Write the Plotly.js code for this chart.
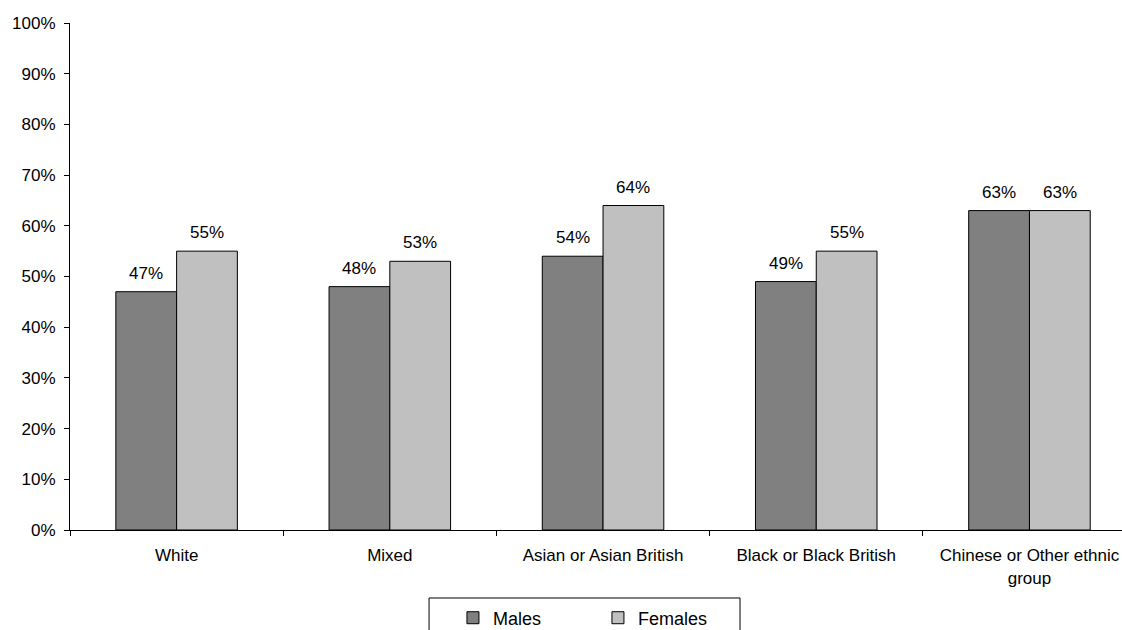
<!DOCTYPE html>
<html><head><meta charset="utf-8">
<script src="https://cdn.plot.ly/plotly-3.0.1.min.js"></script>
<style>body{margin:0;background:#fff}</style>
</head><body>
<div id="chart" style="width:1122px;height:630px"></div>
<script>
const categories = ["White", "Mixed", "Asian or Asian British", "Black or Black British", "Chinese or Other ethnic<br>group"];
const males = [47, 48, 54, 49, 63];
const females = [55, 53, 64, 55, 63];
const seriesNames = ["Males", "Females"];

const FAM = "Liberation Sans, Arial, sans-serif";
const font = {family: FAM, size: 17, color: "#000"};
const BARGAP = 0.43;
const half = (1 - BARGAP) / 4; // offset of each bar centre from category centre

function barTrace(name, vals, color) {
  return {
    type: "bar", name: name, x: categories, y: vals,
    marker: {color: color, line: {color: "#000", width: 1}},
    hoverinfo: "skip"
  };
}
const data = [barTrace(seriesNames[0], males, "#808080"), barTrace(seriesNames[1], females, "#c0c0c0")];

const annotations = [];
[males, females].forEach((vals, s) => {
  vals.forEach((v, i) => {
    annotations.push({
      xref: "x", yref: "y", x: i + (s === 0 ? -half : half), y: v,
      text: v + "%", showarrow: false, yanchor: "bottom", yshift: 7,
      font: font
    });
  });
});

const layout = {
  width: 1122, height: 630,
  margin: {l: 70, r: 0, t: 23, b: 100, autoexpand: false},
  paper_bgcolor: "#fff", plot_bgcolor: "#fff",
  font: font,
  barmode: "group", bargap: BARGAP, bargroupgap: 0,
  showlegend: true,
  legend: {orientation: "h", xref: "container", yref: "container", x: 0.4037, xanchor: "left", y: 0.019, yanchor: "middle",
           borderwidth: 0, bgcolor: "rgba(0,0,0,0)", font: {family: FAM, size: 18, color: "#000"},
           entrywidth: 100},
  shapes: [{type: "rect", xref: "paper", yref: "paper", x0: 0.3413, x1: 0.6369, y0: -0.1341, y1: -0.23,
            line: {color: "#000", width: 1}, fillcolor: "rgba(0,0,0,0)", layer: "above"}],
  annotations: annotations,
  xaxis: {type: "category", range: [-0.5, 4.434], showline: true, linecolor: "#000", linewidth: 1,
          ticks: "outside", tickson: "boundaries", ticklen: 5, tickcolor: "#000", showgrid: false,
          tickfont: font, ticklabelstandoff: 10, fixedrange: true, automargin: false},
  yaxis: {range: [0, 100], dtick: 10, ticksuffix: "%", showline: true, linecolor: "#000", linewidth: 1,
          ticks: "outside", ticklen: 5, tickcolor: "#000", showgrid: false, zeroline: false,
          tickfont: font, ticklabelstandoff: 5, fixedrange: true, automargin: false}
};
Plotly.newPlot("chart", data, layout, {displayModeBar: false, staticPlot: true});
</script>
</body></html>
